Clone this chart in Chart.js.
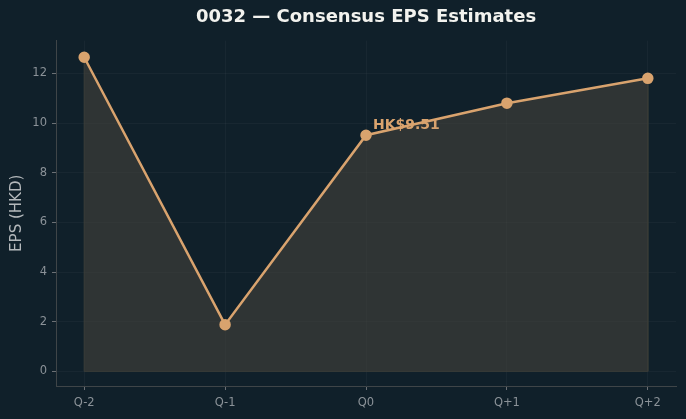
<!DOCTYPE html>
<html>
<head>
<meta charset="utf-8">
<script src="https://cdn.jsdelivr.net/npm/chart.js@4"></script>
<style>
  html, body { margin: 0; padding: 0; background: #10202a; }
  #wrap { width: 686px; height: 419px; }
</style>
</head>
<body>
<div id="wrap"><canvas id="c"></canvas></div>
<script>
const quarters = ["Q-2", "Q-1", "Q0", "Q+1", "Q+2"];
const epsValues = [12.65, 1.88, 9.51, 10.8, 11.8];
const labelIndex = 2;
const labelText = "HK$9.51";

const lineColor = "#d9a36e";

// outline of the shaded area (down to zero on both ends)
const edgePoints = [{ x: 0, y: 0 }]
  .concat(epsValues.map((v, i) => ({ x: i, y: v })))
  .concat([{ x: epsValues.length - 1, y: 0 }, { x: 0, y: 0 }]);

//writes the value next to the Q0 point
const annotate = {
  id: "annotate",
  afterDatasetsDraw(chart) {
    const { ctx, scales } = chart;
    const px = scales.x.getPixelForValue(labelIndex);
    const py = scales.y.getPixelForValue(epsValues[labelIndex]);
    ctx.save();
    ctx.font = "bold 14px 'DejaVu Sans'";
    ctx.fillStyle = lineColor;
    ctx.textBaseline = "alphabetic";
    ctx.fillText(labelText, px + 7, py - 6);
    ctx.restore();
  },
};

new Chart(document.getElementById("c"), {
  type: "line",
  data: {
    datasets: [
      {
        data: epsValues.map((v, i) => ({ x: i, y: v })),
        borderColor: lineColor,
        borderWidth: 2.5,
        pointRadius: 4.5,
        pointBackgroundColor: lineColor,
        pointBorderColor: lineColor,
        fill: false,
        tension: 0,
      },
      {
        data: edgePoints,
        fill: false,
        borderColor: "#3a3d38",
        borderWidth: 1,
        pointRadius: 0,
        tension: 0,
      },
      {
        data: epsValues.map((v, i) => ({ x: i, y: v })),
        fill: "origin",
        backgroundColor: "rgba(78,72,62,0.5)",
        borderColor: "rgba(0,0,0,0)",
        borderWidth: 0,
        pointRadius: 0,
        tension: 0,
      },
    ],
  },
  options: {
    responsive: true,
    maintainAspectRatio: false,
    animation: false,
    layout: { padding: { left: 0, right: 10, bottom: 0 } },
    plugins: {
      legend: { display: false },
      tooltip: { enabled: false },
      filler: { propagate: false },
      title: {
        display: true,
        fullSize: false,
        text: "0032 — Consensus EPS Estimates",
        color: "#f2f2ee",
        font: { family: "'DejaVu Sans'", size: 18, weight: "bold" },
        padding: { top: 7, bottom: 12 },
      },
    },
    scales: {
      x: {
        type: "linear",
        min: -0.2,
        max: 4.2,
        afterBuildTicks: (s) => { s.ticks = quarters.map((q, i) => ({ value: i })); },
        afterFit: (s) => { s.height = 33; },
        ticks: {
          color: "#8b9298",
          font: { family: "'DejaVu Sans'", size: 11.5 },
          padding: 6,
          callback: (v) => quarters[v],
        },
        grid: { color: "rgba(255,255,255,0.035)", tickColor: "#6b7075", tickLength: 4 },
        border: { color: "#3f4548", width: 1 },
      },
      y: {
        type: "linear",
        min: -0.59,
        max: 13.32,
        afterBuildTicks: (s) => { s.ticks = [0, 2, 4, 6, 8, 10, 12].map((v) => ({ value: v })); },
        afterFit: (s) => { s.width = 56; },
        ticks: {
          color: "#8b9298",
          font: { family: "'DejaVu Sans'", size: 11.5 },
          padding: 5,
        },
        title: {
          display: true,
          text: "EPS (HKD)",
          color: "#b4b8bb",
          font: { family: "'DejaVu Sans'", size: 15 },
          padding: { top: 8, bottom: 2 },
        },
        grid: { color: "rgba(255,255,255,0.035)", tickColor: "#6b7075", tickLength: 4 },
        border: { color: "#3f4548", width: 1 },
      },
    },
  },
  plugins: [annotate],
});
</script>
</body>
</html>
